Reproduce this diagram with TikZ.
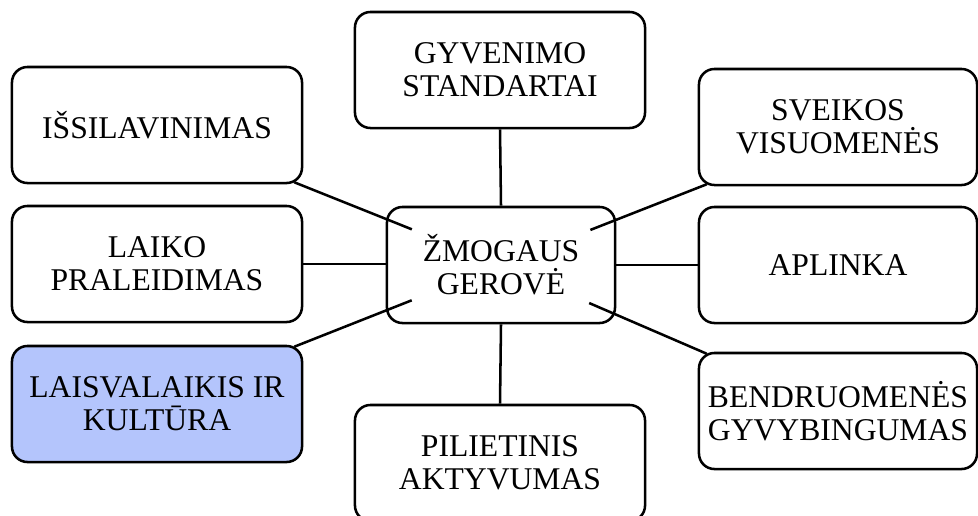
\documentclass[tikz,border=0pt]{standalone}
\usepackage{fontspec}
\setmainfont{Liberation Serif}
\usetikzlibrary{shapes,positioning}
\definecolor{paleblue}{RGB}{180,197,252}

\begin{document}
\begin{tikzpicture}
	[x=0.025cm, y=-0.025cm,
		itembox/.style={rectangle, rounded corners=11pt, draw=black, line width=1.8pt, fill=white, align=center, minimum width=7.25cm, minimum height=2.9cm, font=\fontsize{22.5}{23.5}\selectfont},
		rightbox/.style={itembox, minimum width=6.95cm},
		centerbox/.style={itembox, minimum width=5.7cm},
		link/.style={line width=1.8pt},
		spoke/.style={line width=1.8pt, shorten >=2.4cm},
	]
	\useasboundingbox (0,0) rectangle (978,515);

	\node[centerbox] (gerove) at (501,265) {ŽMOGAUS\\GEROVĖ};

	\node[itembox] (gyvenimo) at (500,70) {GYVENIMO\\STANDARTAI};
	\node[itembox] (pilietinis) at (500,463) {PILIETINIS\\AKTYVUMAS};

	\node[itembox] (issil) at (157,125) {IŠSILAVINIMAS};
	\node[itembox] (laiko) at (157,264) {LAIKO\\PRALEIDIMAS};
	\node[itembox, fill=paleblue] (laisv) at (157,404) {LAISVALAIKIS IR\\KULTŪRA};

	\node[rightbox] (sveikos) at (838,127) {SVEIKOS\\VISUOMENĖS};
	\node[rightbox] (aplinka) at (838,265) {APLINKA};
	\node[rightbox] (bendr) at (838,411) {BENDRUOMENĖS\\GYVYBINGUMAS};

	\draw[link] (gyvenimo.south) -- (gerove.north);
	\draw[link] (pilietinis.north) -- (gerove.south);
	\draw[link] (laiko.east) -- (gerove.west |- laiko.east);
	\draw[link] (aplinka.west) -- (gerove.east |- aplinka.west);

	\draw[spoke] ([shift={(-9,-2)}]issil.south east) -- (gerove.center);
	\draw[spoke] ([shift={(-9,2)}]laisv.north east) -- (gerove.center);
	\draw[spoke] ([shift={(9,-2)}]sveikos.south west) -- (gerove.center);
	\draw[spoke] ([shift={(9,2)}]bendr.north west) -- (gerove.center);

\end{tikzpicture}
\end{document}
